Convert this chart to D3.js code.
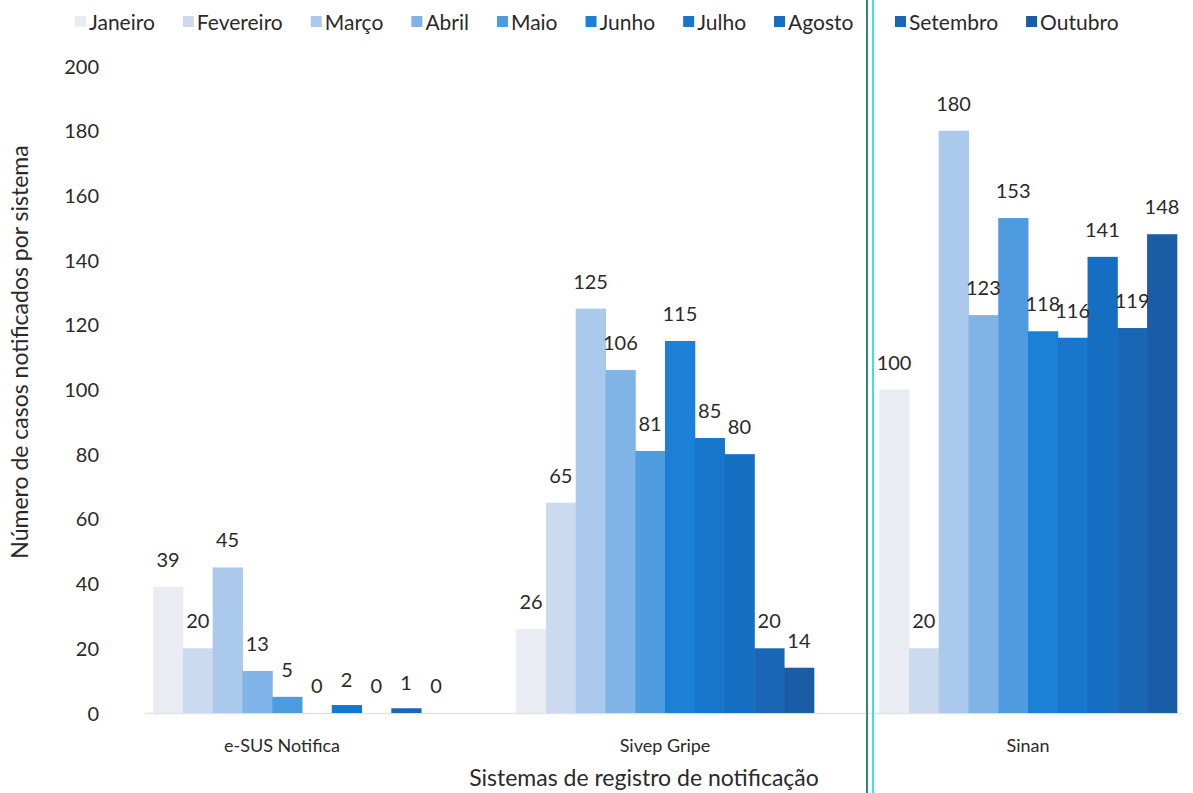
<!DOCTYPE html>
<html>
<head>
<meta charset="utf-8">
<script src="https://cdn.jsdelivr.net/npm/d3@7"></script>
<style>
  body { margin: 0; background: #fff; }
  text { font-family: Lato, "Open Sans", sans-serif; fill: #2a2a2a; }
</style>
</head>
<body>
<div class="chart"></div>
<script>
//Data
var systems = ["e-SUS Notifica", "Sivep Gripe", "Sinan"];
var months = ["Janeiro", "Fevereiro", "Março", "Abril", "Maio", "Junho", "Julho", "Agosto", "Setembro", "Outubro"];
var esusValues = [39, 20, 45, 13, 5, 0, 2, 0, 1, 0];
var sivepValues = [26, 65, 125, 106, 81, 115, 85, 80, 20, 14];
var sinanValues = [100, 20, 180, 123, 153, 118, 116, 141, 119, 148];
var yTicks = [0, 20, 40, 60, 80, 100, 120, 140, 160, 180, 200];
var monthColors = ["#e9ecf3", "#cbdaee", "#aac9ec", "#80b3e6", "#4f9be0", "#1c80d6", "#1677cc", "#156ec2", "#1866b4", "#1b5ca6"];

var seriesBySystem = [esusValues, sivepValues, sinanValues];

var width = 1193, height = 793;

var svg = d3.select(".chart")
    .append("svg")
    .attr("width", width)
    .attr("height", height);

//Scales
var y = d3.scaleLinear().domain([0, 200]).range([713, 66]);
var x0 = d3.scaleBand().domain(systems).range([120.5, 1209.5])
    .paddingInner(0.18).paddingOuter(0.09);
var x1 = d3.scaleBand().domain(months).range([0, x0.bandwidth()]);
var color = d3.scaleOrdinal().domain(months).range(monthColors);

//Y axis (labels only)
var yAxis = svg.append("g")
    .attr("transform", "translate(99,0)")
    .call(d3.axisLeft(y).tickValues(yTicks).tickSize(0).tickPadding(0));
yAxis.select(".domain").remove();
yAxis.selectAll("text")
    .style("font-size", "20px")
    .attr("fill", "#2a2a2a")
    .attr("dy", "0.35em");

//Baseline
svg.append("line")
    .attr("x1", 145).attr("x2", 1182)
    .attr("y1", y(0) + 0.5).attr("y2", y(0) + 0.5)
    .style("stroke", "#e2e2e2")
    .style("stroke-width", 1.5);

//Bars
var groups = svg.selectAll(".sys")
    .data(systems)
    .enter().append("g")
    .attr("class", "sys")
    .attr("transform", d => "translate(" + x0(d) + ",0)");

groups.selectAll("rect")
    .data((d, i) => months.map((m, j) => ({ month: m, value: seriesBySystem[i][j] })))
    .enter().append("rect")
    .attr("x", d => x1(d.month))
    .attr("width", x1.bandwidth() + 0.5)
    .attr("y", d => y(d.value) - (d.value > 0 && d.value < 3 ? 1.5 : 0))
    .attr("height", d => d.value > 0 ? y(0) - y(d.value) + (d.value < 3 ? 1.5 : 0) : 0)
    .attr("fill", d => color(d.month));

//Value labels
groups.selectAll(".val")
    .data((d, i) => months.map((m, j) => ({ month: m, value: seriesBySystem[i][j] })))
    .enter().append("text")
    .attr("class", "val")
    .attr("x", d => x1(d.month) + x1.bandwidth() / 2)
    .attr("y", d => y(d.value) - 20)
    .attr("text-anchor", "middle")
    .style("font-size", "20px")
    .text(d => d.value);

//Category labels
svg.selectAll(".cat")
    .data(systems)
    .enter().append("text")
    .attr("class", "cat")
    .attr("x", d => x0(d) + x0.bandwidth() / 2 - (d === "e-SUS Notifica" ? 20 : 0))
    .attr("y", 752)
    .attr("text-anchor", "middle")
    .style("font-size", "18px")
    .text(d => d);

//Axis titles
svg.append("text")
    .attr("x", 644).attr("y", 786)
    .attr("text-anchor", "middle")
    .style("font-size", "23px")
    .attr("fill", "#333")
    .text("Sistemas de registro de notificação");

svg.append("text")
    .attr("transform", "translate(28,352) rotate(-90)")
    .attr("text-anchor", "middle")
    .style("font-size", "23px")
    .text("Número de casos notificados por sistema");

//Legend, laid out left to right, jumping past the scan border
var legend = svg.append("g").attr("class", "legend");
var lx = 75;
months.forEach(function (m) {
    var item = legend.append("g");
    item.append("rect")
        .attr("x", 0).attr("y", 16)
        .attr("width", 11).attr("height", 11)
        .attr("fill", color(m));
    var t = item.append("text")
        .attr("x", 14).attr("y", 30)
        .style("font-size", "21px")
        .text(m);
    var w = 14 + t.node().getComputedTextLength();
    if (lx < 895 && lx + w > 862) lx = 895;
    item.attr("transform", "translate(" + lx + ",0)");
    lx += w + 28;
});

//Scan border lines
svg.append("line")
    .attr("x1", 867).attr("x2", 867).attr("y1", 0).attr("y2", height)
    .style("stroke", "#2b8a7c").style("stroke-width", 2);
svg.append("line")
    .attr("x1", 873).attr("x2", 873).attr("y1", 0).attr("y2", height)
    .style("stroke", "#3fdde6").style("stroke-width", 2);
</script>
</body>
</html>
